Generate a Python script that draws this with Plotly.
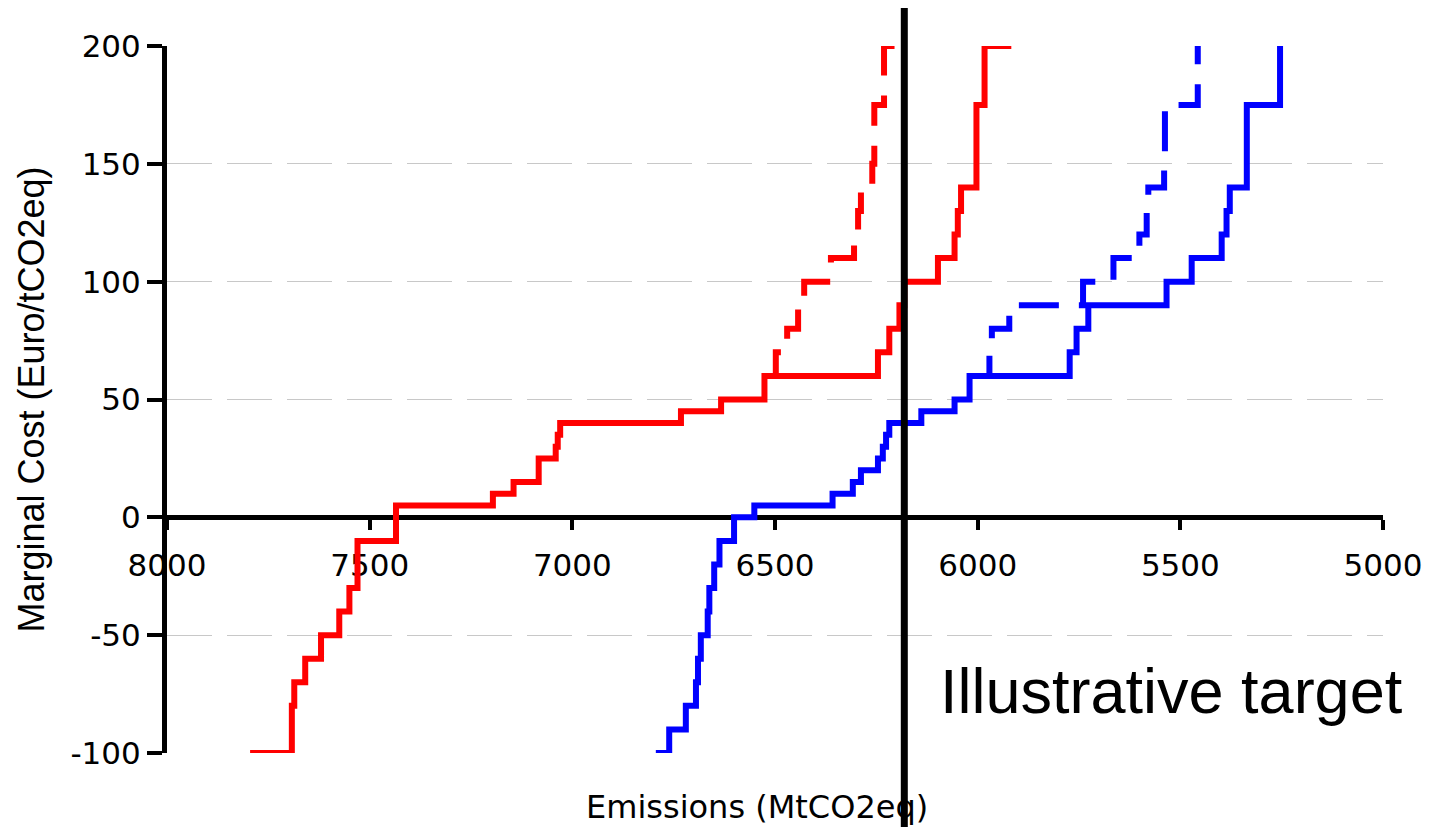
import plotly.graph_objects as go

# ---------------- data ----------------
x_ticks = [8000, 7500, 7000, 6500, 6000, 5500, 5000]
y_ticks = [-100, -50, 0, 50, 100, 150, 200]

# step curves: x where each cost level starts, and the level (last point = end)
red_solid_x = [7795, 7692, 7686, 7659, 7620, 7575, 7550, 7530, 7435, 7196, 7145, 7083,
               7041, 7036, 7030, 6732, 6633, 6526, 6246, 6218, 6193, 6181, 6098, 6057,
               6049, 6041, 6003, 5983, 5917]
red_solid_y = [-100, -80, -70, -60, -50, -40, -30, -10, 5, 10, 15, 25,
               30, 35, 40, 45, 50, 60, 70, 80, 90, 100, 110, 120,
               130, 140, 175, 200, 200]

red_dash_x = [6526, 6498, 6470, 6443, 6428, 6362, 6305, 6295, 6288, 6260, 6255, 6231, 6172]
red_dash_y = [60, 70, 80, 90, 100, 110, 120, 130, 140, 150, 175, 200, 200]

blue_solid_x = [6794, 6761, 6720, 6695, 6690, 6683, 6666, 6662, 6650, 6637, 6601, 6551,
                6358, 6308, 6288, 6246, 6234, 6226, 6218, 6139, 6057, 6020, 5773,
                5756, 5727, 5534, 5472, 5398, 5386, 5378, 5336, 5254, 5254]
blue_solid_y = [-100, -90, -80, -70, -60, -50, -40, -30, -20, -10, 0, 5,
                10, 15, 20, 25, 30, 35, 40, 45, 50, 60, 70,
                80, 90, 100, 110, 120, 130, 140, 175, 200, 200]

blue_dash_x = [6020, 5971, 5965, 5922, 5740, 5665, 5601, 5583, 5579, 5540, 5538, 5457, 5457]
blue_dash_y = [60, 70, 80, 90, 100, 110, 120, 130, 140, 150, 175, 200, 200]

target_x = 6181
target_label = "Illustrative target"
x_title = "Emissions (MtCO2eq)"
y_title = "Marginal Cost (Euro/tCO2eq)"

# ---------------- figure ----------------
fig = go.Figure()

dash_pat = "40px,20px"
fig.add_trace(go.Scatter(x=red_dash_x, y=red_dash_y, mode="lines", line_shape="hv",
                         line=dict(color="#ff0000", width=6, dash=dash_pat), showlegend=False))
fig.add_trace(go.Scatter(x=blue_dash_x, y=blue_dash_y, mode="lines", line_shape="hv",
                         line=dict(color="#0000ff", width=6, dash=dash_pat), showlegend=False))
fig.add_trace(go.Scatter(x=red_solid_x, y=red_solid_y, mode="lines", line_shape="hv",
                         line=dict(color="#ff0000", width=6), showlegend=False))
fig.add_trace(go.Scatter(x=blue_solid_x, y=blue_solid_y, mode="lines", line_shape="hv",
                         line=dict(color="#0000ff", width=6), showlegend=False))

tick_font = dict(family="DejaVu Sans, Verdana, sans-serif", size=31, color="black")

fig.update_layout(
    width=1432, height=827,
    margin=dict(l=159, r=57, t=38, b=82),
    paper_bgcolor="white", plot_bgcolor="white",
    xaxis=dict(
        range=[8000, 5000], tickvals=x_ticks, ticktext=[str(v) for v in x_ticks],
        anchor="free", position=1/3,
        showline=True, linecolor="black", linewidth=5,
        ticks="outside", ticklen=10, tickwidth=4, tickcolor="black",
        showgrid=False, zeroline=False, tickfont=tick_font,
        ticklabelstandoff=8, layer="below traces",
    ),
    yaxis=dict(
        range=[-100, 200], tickvals=y_ticks, ticktext=[str(v) for v in y_ticks],
        showline=True, linecolor="black", linewidth=5,
        ticks="outside", ticklen=15, tickwidth=4, tickcolor="black",
        showgrid=True, gridcolor="#c8c8c8", gridwidth=1, griddash="45px,15px",
        zeroline=False, tickfont=tick_font, layer="below traces",
        title=dict(text=y_title, standoff=16,
                   font=dict(family="Liberation Sans, Arial, sans-serif", size=36, color="black")),
    ),
)

fig.add_shape(type="line", xref="x", yref="paper", x0=target_x, x1=target_x,
              y0=-0.12, y1=1.054, line=dict(color="black", width=7), layer="above")

fig.add_annotation(text=target_label, xref="paper", yref="paper", x=0.634, y=0.088,
                   xanchor="left", yanchor="middle", showarrow=False,
                   font=dict(family="Liberation Sans, Arial, sans-serif", size=63, color="black"))
fig.add_annotation(text=x_title, xref="paper", yref="paper", x=0.485, y=-0.077,
                   xanchor="center", yanchor="middle", showarrow=False,
                   font=dict(family="DejaVu Sans, Verdana, sans-serif", size=32, color="black"))

fig.write_html("out.html")
